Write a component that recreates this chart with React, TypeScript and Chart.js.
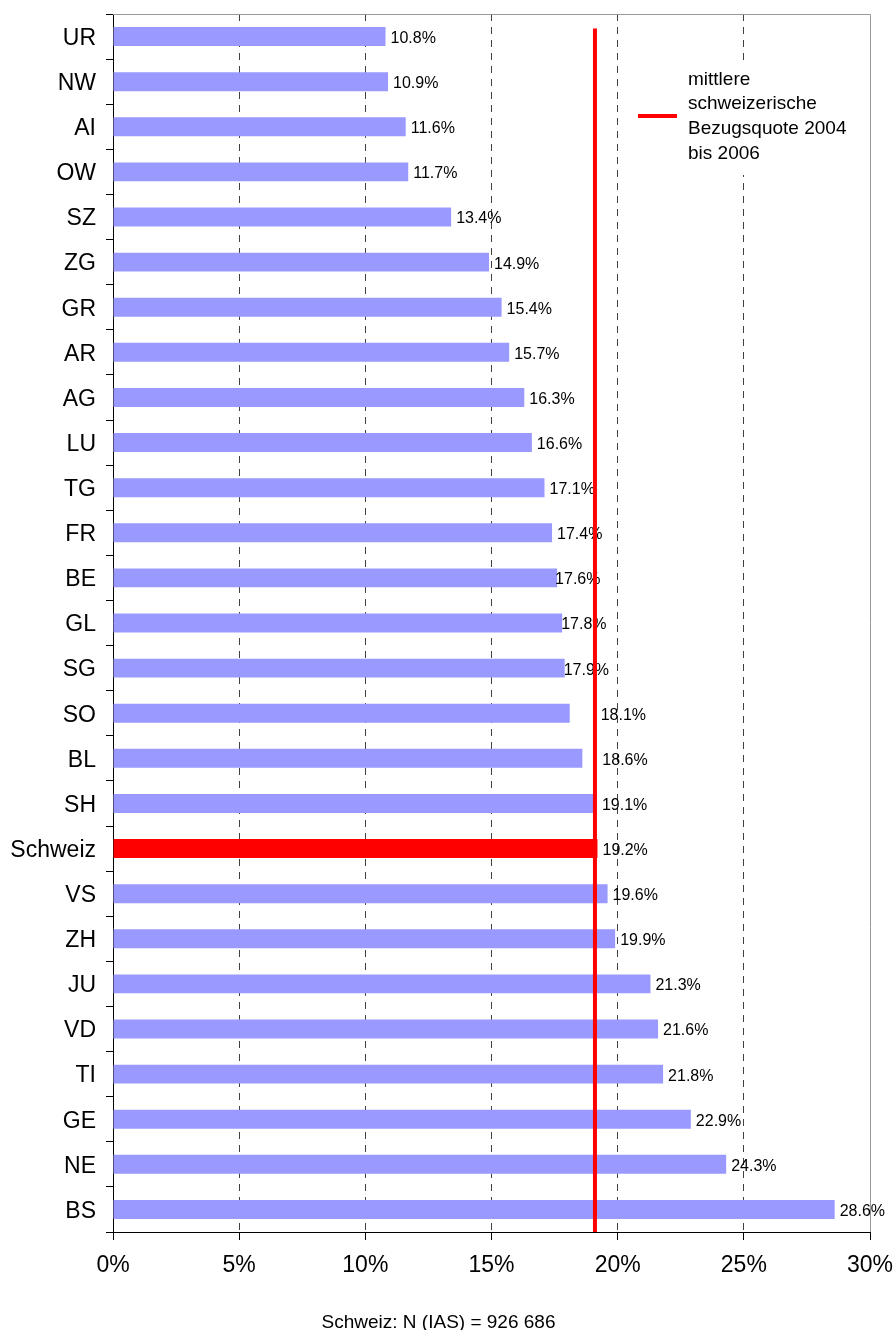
import React, { useEffect, useRef } from "react";
import { Chart, registerables } from "chart.js";

Chart.register(...registerables);

// ---------- data ----------
const categories = [
  "UR", "NW", "AI", "OW", "SZ", "ZG", "GR", "AR", "AG", "LU", "TG", "FR", "BE", "GL",
  "SG", "SO", "BL", "SH", "Schweiz", "VS", "ZH", "JU", "VD", "TI", "GE", "NE", "BS",
];
const quotes = [
  10.8, 10.9, 11.6, 11.7, 13.4, 14.9, 15.4, 15.7, 16.3, 16.6, 17.1, 17.4, 17.6, 17.8,
  17.9, 18.1, 18.6, 19.1, 19.2, 19.6, 19.9, 21.3, 21.6, 21.8, 22.9, 24.3, 28.6,
];
// mean Swiss rate 2004-2006 drawn as a vertical line (scatter-like series on a hidden 0..1 axis)
const averageQuote = [19.1, 19.1];
const averageSpan = [0, 0.988];
const xTickValues = [0, 5, 10, 15, 20, 25, 30];
const legendLines = ["mittlere", "schweizerische", "Bezugsquote 2004", "bis 2006"];
const footerText = "Schweiz: N (IAS) = 926 686";

// ---------- styles ----------
const FONT = '"Liberation Sans", Arial, Helvetica, sans-serif';
const BAR_COLOR = "#9999FF";
const HIGHLIGHT_COLOR = "#FF0000";
const GRID_COLOR = "#404040";
const labelShift: Record<string, number> = { BE: -2, GL: -1, SG: -1, SO: 31, BL: 20, SH: 7 };

const decorPlugin = {
  id: "decor",
  beforeDatasetsDraw(chart: any) {
    const { ctx, chartArea: a } = chart;
    ctx.save();
    ctx.strokeStyle = "#999999";
    ctx.lineWidth = 1;
    ctx.beginPath();
    const t = Math.round(a.top) + 0.5;
    const r = Math.round(a.right) + 0.5;
    ctx.moveTo(a.left, t);
    ctx.lineTo(r, t);
    ctx.lineTo(r, a.bottom);
    ctx.stroke();
    ctx.restore();
  },
  afterDatasetDraw(chart: any, args: any) {
    if (args.index !== 1) return;
    const { ctx } = chart;
    const meta = chart.getDatasetMeta(1);
    ctx.save();
    ctx.font = `16px ${FONT}`;
    ctx.fillStyle = "#000";
    ctx.textAlign = "left";
    ctx.textBaseline = "middle";
    meta.data.forEach((bar: any, i: number) => {
      const s = labelShift[categories[i]] ?? 5;
      ctx.fillText(quotes[i].toFixed(1) + "%", bar.x + s, bar.y + 2);
    });
    ctx.restore();
  },
  afterDraw(chart: any) {
    const { ctx, chartArea: a } = chart;
    ctx.save();
    // legend box
    const bx = a.right - 245;
    ctx.fillStyle = "#fff";
    ctx.fillRect(bx, 62, 243, 113);
    ctx.strokeStyle = HIGHLIGHT_COLOR;
    ctx.lineWidth = 4;
    ctx.beginPath();
    ctx.moveTo(bx + 13, 116);
    ctx.lineTo(bx + 52, 116);
    ctx.stroke();
    ctx.fillStyle = "#000";
    ctx.font = `19px ${FONT}`;
    ctx.textAlign = "left";
    ctx.textBaseline = "alphabetic";
    legendLines.forEach((line, i) => {
      ctx.fillText(line, bx + 63, 84.7 + i * 24.7);
    });
    // footer
    ctx.textAlign = "center";
    ctx.fillText(footerText, 438.5, 1328);
    ctx.restore();
  },
};

export default function App() {
  const ref = useRef<HTMLCanvasElement>(null);

  useEffect(() => {
    document.body.style.margin = "0";
    const canvas = ref.current!;
    const chart = new Chart(canvas, {
      type: "bar",
      data: {
        labels: categories,
        datasets: [
          {
            type: "line",
            label: "mittlere schweizerische Bezugsquote 2004 bis 2006",
            data: averageQuote.map((x, i) => ({ x, y: averageSpan[i] })),
            xAxisID: "x",
            yAxisID: "yLine",
            indexAxis: "y",
            borderColor: HIGHLIGHT_COLOR,
            borderWidth: 4,
            borderCapStyle: "butt",
            pointRadius: 0,
            fill: false,
          } as any,
          {
            type: "bar",
            label: "Bezugsquote",
            data: quotes,
            xAxisID: "x",
            yAxisID: "y",
            backgroundColor: categories.map((c) => (c === "Schweiz" ? HIGHLIGHT_COLOR : BAR_COLOR)),
            borderWidth: 0,
            grouped: false,
            barPercentage: 0.42,
            categoryPercentage: 1,
          },
        ],
      },
      options: {
        indexAxis: "y",
        animation: false,
        responsive: false,
        devicePixelRatio: 1,
        events: [],
        layout: { padding: { top: 14, right: 25, left: 0, bottom: 0 } },
        plugins: {
          legend: { display: false },
          tooltip: { enabled: false },
          title: { display: false },
        },
        scales: {
          y: {
            type: "category",
            position: "left",
            offset: true,
            grid: {
              offset: true,
              drawOnChartArea: false,
              drawTicks: true,
              tickLength: 7,
              tickColor: "#000",
              color: "#000",
            },
            border: { display: true, color: "#000", width: 1 },
            ticks: {
              autoSkip: false,
              color: "#000",
              font: { family: FONT, size: 23 },
              padding: 10,
              labelOffset: 2,
            },
            afterFit(s: any) {
              s.width = 113;
              s.paddingTop = 0;
              s.paddingBottom = 0;
            },
          },
          yLine: {
            type: "linear",
            display: false,
            offset: false,
            min: 0,
            max: 1,
          },
          x: {
            type: "linear",
            position: "bottom",
            offset: false,
            min: 0,
            max: 30,
            afterBuildTicks(s: any) {
              s.ticks = xTickValues.map((v) => ({ value: v }));
            },
            grid: {
              color: (c: any) =>
                c.tick && (c.tick.value === 0 || c.tick.value === 30) ? "rgba(0,0,0,0)" : GRID_COLOR,
              lineWidth: 1,
              tickColor: "#000",
              tickLength: 8,
              tickBorderDash: [],
              drawTicks: true,
            },
            border: { display: true, color: "#000", width: 1, dash: [7, 6] },
            ticks: {
              color: "#000",
              font: { family: FONT, size: 23 },
              padding: 12,
              maxRotation: 0,
              autoSkip: false,
              callback: (v: any) => v + "%",
            },
            afterFit(s: any) {
              s.height = 98;
              s.paddingLeft = 0;
              s.paddingRight = 0;
            },
          },
        } as any,
      },
      plugins: [decorPlugin],
    } as any);
    return () => chart.destroy();
  }, []);

  return (
    <div style={{ width: 895, height: 1330, position: "relative" }}>
      <canvas ref={ref} width={895} height={1330} style={{ display: "block" }} />
    </div>
  );
}
